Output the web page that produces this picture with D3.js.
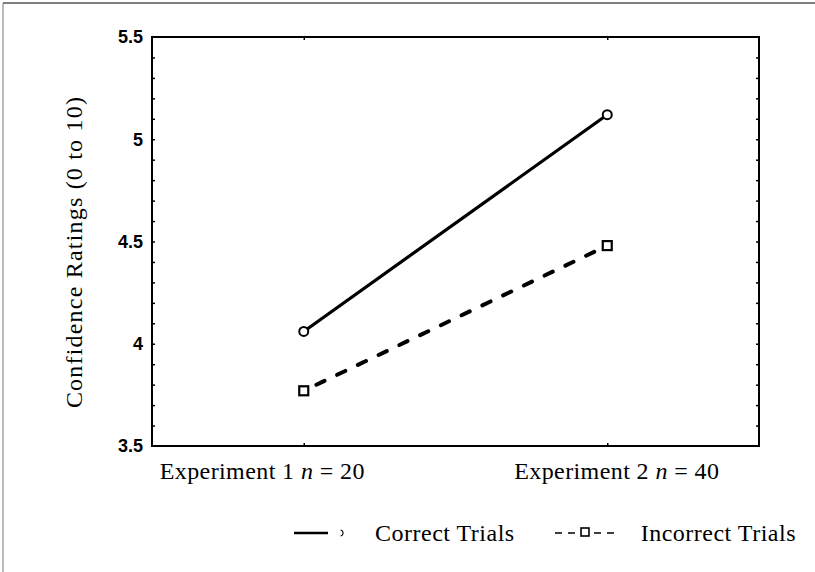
<!DOCTYPE html>
<html><head><meta charset="utf-8">
<script src="https://cdn.jsdelivr.net/npm/d3@7"></script>
<style>body{margin:0;background:#fff}</style>
</head><body>
<script>
const categories = ["Experiment 1", "Experiment 2"];
const categoryN = ["20", "40"];
const correctValues = [4.06, 5.12];
const incorrectValues = [3.77, 4.48];
const yTickValues = [3.5, 4, 4.5, 5, 5.5];
const yTickLabels = ["3.5", "4", "4.5", "5", "5.5"];
const seriesNames = ["Correct Trials", "Incorrect Trials"];
const yTitle = "Confidence Ratings (0 to 10)";

const W = 815, H = 572;
const m = {left: 152, right: 56, top: 37, bottom: 126};
const svg = d3.select("body").append("svg").attr("width", W).attr("height", H);

// outer frame (top and left edges only)
svg.append("line").attr("x1", 3).attr("x2", W).attr("y1", 3).attr("y2", 3).attr("stroke", "#555").attr("stroke-width", 1.5);
svg.append("line").attr("x1", 3).attr("x2", 3).attr("y1", 3).attr("y2", H).attr("stroke", "#777").attr("stroke-width", 1);

const x = d3.scalePoint().domain(categories).range([m.left, W - m.right]).padding(0.5);
const y = d3.scaleLinear().domain([3.5, 5.5]).range([H - m.bottom, m.top]);

const serif = "'Liberation Serif', 'Times New Roman', serif";
const sans = "'Liberation Sans', Arial, sans-serif";

// plot box
svg.append("rect").attr("x", m.left).attr("y", m.top).attr("width", W - m.right - m.left).attr("height", H - m.bottom - m.top)
  .attr("fill", "none").attr("stroke", "#000").attr("stroke-width", 2);

// minor ticks every 0.1 on left and right
const minor = d3.range(36, 55).map(v => v / 10);
const leftAx = d3.axisRight(y).tickValues(minor).tickSize(3).tickFormat("");
const rightAx = d3.axisLeft(y).tickValues(minor).tickSize(3).tickFormat("");
svg.append("g").attr("transform", `translate(${m.left},0)`).call(leftAx).call(g => g.select(".domain").remove());
svg.append("g").attr("transform", `translate(${W - m.right},0)`).call(rightAx).call(g => g.select(".domain").remove());
// category ticks top & bottom
svg.append("g").attr("transform", `translate(0,${H - m.bottom})`).call(d3.axisTop(x).tickSize(3).tickFormat("")).call(g => g.select(".domain").remove());
svg.append("g").attr("transform", `translate(0,${m.top})`).call(d3.axisBottom(x).tickSize(3).tickFormat("")).call(g => g.select(".domain").remove());
svg.selectAll(".tick line").attr("stroke", "#000").attr("stroke-width", 1.5);

// y tick labels
const yl = d3.axisLeft(y).tickValues(yTickValues).tickSize(0).tickPadding(9).tickFormat((d, i) => yTickLabels[i]);
svg.append("g").attr("transform", `translate(${m.left},0)`).call(yl)
  .call(g => g.select(".domain").remove())
  .selectAll("text").attr("font-family", sans).attr("font-weight", "bold").attr("font-size", 18).attr("fill", "#000");

// x category labels
const labelStart = [-144, -93];
categories.forEach((c, i) => {
  const t = svg.append("text").attr("x", x(c) + labelStart[i]).attr("y", H - m.bottom + 33)
    .attr("text-anchor", "start").attr("font-family", serif).attr("font-size", 24).attr("letter-spacing", 0.4).attr("fill", "#000");
  t.append("tspan").text(c + "  ");
  t.append("tspan").attr("font-style", "italic").text("n");
  t.append("tspan").text(" = " + categoryN[i]);
});

// y title
svg.append("text").attr("transform", `translate(82,252) rotate(-90)`)
  .attr("text-anchor", "middle").attr("font-family", serif).attr("font-size", 24).attr("letter-spacing", 1.2)
  .attr("fill", "#000").text(yTitle);

// lines
const line = d3.line().x((d, i) => x(categories[i])).y(d => y(d));
svg.append("path").datum(correctValues).attr("d", line).attr("fill", "none").attr("stroke", "#000").attr("stroke-width", 3.2);
svg.append("path").datum(incorrectValues).attr("d", line).attr("fill", "none").attr("stroke", "#000")
  .attr("stroke-width", 4).attr("stroke-dasharray", "9,14").attr("stroke-linecap", "round").attr("stroke-dashoffset", -14);

svg.selectAll("circle.pt").data(correctValues).enter().append("circle")
  .attr("cx", (d, i) => x(categories[i])).attr("cy", d => y(d)).attr("r", 4.5)
  .attr("fill", "#fff").attr("stroke", "#000").attr("stroke-width", 2);
svg.selectAll("rect.pt").data(incorrectValues).enter().append("rect")
  .attr("x", (d, i) => x(categories[i]) - 4.5).attr("y", d => y(d) - 4.5).attr("width", 9).attr("height", 9)
  .attr("fill", "#fff").attr("stroke", "#000").attr("stroke-width", 2.2);

// legend
const ly = 533;
const lg = svg.append("g");
lg.append("line").attr("x1", 294).attr("x2", 328).attr("y1", ly).attr("y2", ly).attr("stroke", "#000").attr("stroke-width", 2.5);
lg.append("path").attr("d", d3.arc()({innerRadius: 2.5, outerRadius: 3.6, startAngle: 0.2, endAngle: Math.PI - 0.2})).attr("transform", `translate(340,${ly})`).attr("fill", "#000");
lg.append("text").attr("x", 375).attr("y", ly + 8).attr("font-family", serif).attr("font-size", 24).attr("letter-spacing", 0.5).text(seriesNames[0]);
lg.append("line").attr("x1", 555).attr("x2", 617).attr("y1", ly).attr("y2", ly).attr("stroke", "#000").attr("stroke-width", 1.6).attr("stroke-dasharray", "7,6");
lg.append("rect").attr("x", 581).attr("y", ly - 5).attr("width", 8).attr("height", 8).attr("fill", "#fff").attr("stroke", "#000").attr("stroke-width", 1.6);
lg.append("text").attr("x", 796).attr("y", ly + 8).attr("text-anchor", "end").attr("font-family", serif).attr("font-size", 24).attr("letter-spacing", 0.5).text(seriesNames[1]);
</script>
</body></html>
